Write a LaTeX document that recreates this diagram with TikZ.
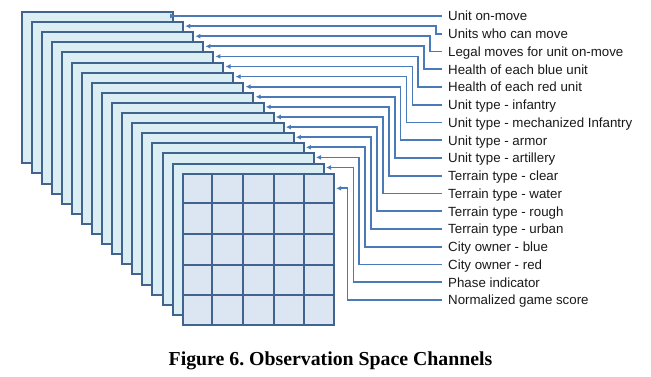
\documentclass[tikz,border=0pt]{standalone}
\usepackage{fontspec}
\setmainfont{Liberation Sans}
\newfontfamily\capfont{Liberation Serif}
\usetikzlibrary{arrows.meta,calc}
\definecolor{sheetfill}{HTML}{DAEEF3}
\definecolor{gridfill}{HTML}{DCE6F2}
\definecolor{bordercol}{HTML}{41648F}
\definecolor{conncol}{HTML}{4A7AB8}
\tikzset{
  sheet/.style={draw=bordercol, line width=2pt, fill=sheetfill, minimum width=151.3pt, minimum height=151.3pt, inner sep=0pt, anchor=north west},
  gridline/.style={draw=bordercol, line width=2pt},
  conn/.style={draw=conncol, line width=1.7pt, -{Latex[length=5pt,width=5pt]}},
  lab/.style={anchor=west, inner sep=0pt, text height=9.5pt, text depth=0pt, font=\fontsize{13.3}{15}\selectfont, text=black!90},
  captxt/.style={anchor=base, inner sep=0pt, font=\capfont\bfseries\fontsize{19.8}{22}\selectfont}
}
\frenchspacing
\begin{document}
\begin{tikzpicture}[x=1pt,y=-1pt]
\useasboundingbox (0,0) rectangle (651,376);
% stacked channel sheets
\foreach \i in {0,...,15} {
  \pgfmathsetmacro\sx{20.7+10.06*\i}
  \pgfmathsetmacro\sy{11+10.1*\i}
  \node[sheet] (s\i) at (\sx,\sy) {};
}
\node[sheet, fill=gridfill] (s16) at (181.7,172.7) {};
\foreach \k in {1,...,4} {
  \draw[gridline] ($(s16.north west)!\k/5!(s16.north east)$) -- ($(s16.south west)!\k/5!(s16.south east)$);
  \draw[gridline] ($(s16.north west)!\k/5!(s16.south west)$) -- ($(s16.north east)!\k/5!(s16.south east)$);
}
% labels
\foreach \i/\t in {0/Unit on-move, 1/Units who can move, 2/Legal moves for unit on-move,
  3/Health of each blue unit, 4/Health of each red unit, 5/Unit type - infantry,
  6/Unit type - mechanized Infantry, 7/Unit type - armor, 8/Unit type - artillery,
  9/Terrain type - clear, 10/Terrain type - water, 11/Terrain type - rough,
  12/Terrain type - urban, 13/City owner - blue, 14/City owner - red,
  15/Phase indicator, 16/Normalized game score} {
  \pgfmathsetmacro\ly{16+17.75*\i}
  \node[lab] (l\i) at (448,\ly) {\t};
}
% arrow targets on the sheets
\foreach \i in {0,...,15} {
  \coordinate (t\i) at ([xshift=1.2pt,yshift=-5pt]s\i.north east);
}
\coordinate (t16) at ([xshift=1.2pt,yshift=-15.6pt]s16.north east);
% connectors
\draw[conn] ([xshift=-6pt]l0.west) -- (t0 -| s0.east) -- (t0);
\foreach \i in {1,...,16} {
  \pgfmathsetmacro\vx{436-5.9*(\i-1)}
  \coordinate (v\i) at (\vx,0);
  \draw[conn] ([xshift=-6pt]l\i.west) -- (l\i.west -| v\i) -- (t\i -| v\i) -- (t\i);
}
% caption
\node[captxt] (cap) at (330.5,365) {Figure 6. Observation Space Channels};
\end{tikzpicture}
\end{document}
